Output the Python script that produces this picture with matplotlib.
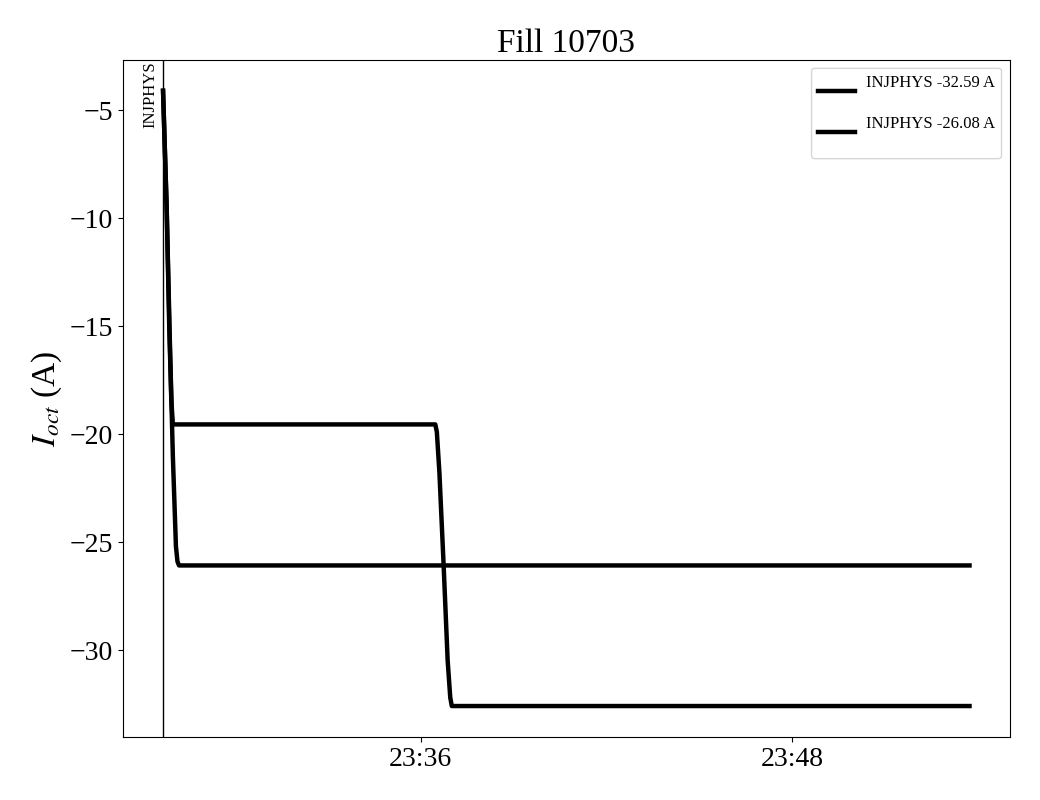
import matplotlib
matplotlib.use("Agg")
import matplotlib.pyplot as plt
import matplotlib.dates as mdates
from matplotlib.patches import FancyBboxPatch
from matplotlib.transforms import Affine2D
import pandas as pd

plt.rcParams["font.family"] = ["Liberation Serif", "DejaVu Serif"]
plt.rcParams["mathtext.fontset"] = "stix"

DAY = "2024-06-01 "
MODE = "INJPHYS"
MODE_TIME = "23:27:40"

# trace 1: settles at -32.59 A
t_a = ["23:27:40", "23:27:47", "23:27:52", "23:27:56", "23:27:59", "23:36:28", "23:36:31",
       "23:36:36", "23:36:44", "23:36:52", "23:36:57", "23:37:00", "23:53:44"]
i_a = [-4.1, -9.5, -15.0, -18.4, -19.55, -19.55, -19.9,
       -21.8, -26.0, -30.5, -32.2, -32.59, -32.59]

# trace 2: settles at -26.08 A
t_b = ["23:27:40", "23:27:47", "23:27:53", "23:27:59", "23:28:05", "23:28:08", "23:28:11", "23:53:44"]
i_b = [-4.1, -9.5, -15.5, -21.0, -25.2, -25.9, -26.08, -26.08]

labels = ["INJPHYS -32.59 A", "INJPHYS -26.08 A"]

fig, ax = plt.subplots(figsize=(10.4, 8), dpi=100)
ax.plot(pd.to_datetime([DAY + t for t in t_a]), i_a, color="black", linewidth=3.2, label=labels[0])
ax.plot(pd.to_datetime([DAY + t for t in t_b]), i_b, color="black", linewidth=3.2, label=labels[1])

mode_x = pd.to_datetime(DAY + MODE_TIME)
ax.axvline(mode_x, color="black", linewidth=1)
ax.annotate(MODE, xy=(mode_x, 1.0), xycoords=("data", "axes fraction"),
            xytext=(-3, -1), textcoords="offset points", rotation=90,
            ha="right", va="top", fontsize=12)

ax.xaxis.set_major_locator(mdates.MinuteLocator(byminute=[0, 12, 24, 36, 48]))
ax.xaxis.set_major_formatter(mdates.DateFormatter("%H:%M"))
ax.tick_params(labelsize=20)
ax.set_ylabel(r"$I_{oct}$ (A)", fontsize=24)
ax.set_title("Fill 10703", fontsize=24)

fig.subplots_adjust(left=0.118, right=0.971, top=0.925, bottom=0.079)

leg = ax.legend(fontsize=12, loc="upper right", handlelength=2.2, labelspacing=1.5,
                handletextpad=0.65, frameon=False)
# handles sit a little below the label text in the original
for h in leg.legend_handles:
    h.set_transform(h.get_transform() + Affine2D().translate(0, -10))

# frame drawn by hand so it can carry the extra room under the last row
fig.canvas.draw()
bb = leg.get_window_extent().transformed(ax.transAxes.inverted())
extra = 20 / ax.bbox.height
frame = FancyBboxPatch((bb.x0, bb.y0 - extra), bb.width, bb.height + extra,
                       boxstyle="round,pad=0,rounding_size=0.004",
                       transform=ax.transAxes, facecolor="white", edgecolor="0.8",
                       alpha=0.8, linewidth=1, zorder=4.9)
ax.add_patch(frame)

fig.savefig("out.png", dpi=100)
